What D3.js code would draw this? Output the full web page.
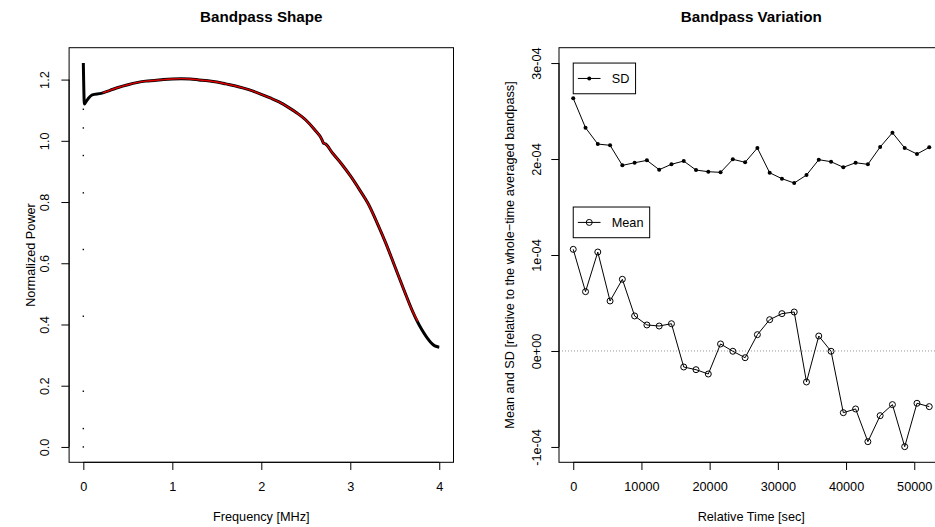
<!DOCTYPE html>
<html>
<head>
<meta charset="utf-8">
<script src="https://cdn.jsdelivr.net/npm/d3@7"></script>
<style>
  body { margin: 0; background: #fff; }
  text { font-family: "Liberation Sans", Arial, Helvetica, sans-serif; fill: #000; }
</style>
</head>
<body>
<div id="chart"></div>
<script>
// ---- left panel: bandpass shape ----
const spikeFreq = [0, 0, 0, 0, 0, 0, 0, 0, 0]
const spikePower = [0.0, 0.06, 0.182, 0.427, 0.645, 0.83, 0.952, 1.042, 1.103]

const shapeFreq = [0, 0.012, 0.03, 0.06, 0.1, 0.2, 0.3, 0.4, 0.5, 0.6, 0.7, 0.8, 0.9, 1.0, 1.1, 1.2, 1.3, 1.4, 1.5, 1.6, 1.7, 1.8, 1.9, 2.0, 2.1, 2.2, 2.3, 2.4, 2.5, 2.6, 2.68, 2.70, 2.72, 2.8, 2.9, 3.0, 3.1, 3.2, 3.3, 3.4, 3.5, 3.6, 3.7, 3.8, 3.9, 3.95, 4.0]
const shapePower = [1.254, 1.12, 1.128, 1.14, 1.15, 1.155, 1.165, 1.175, 1.183, 1.19, 1.195, 1.197, 1.2, 1.202, 1.203, 1.202, 1.199, 1.196, 1.192, 1.186, 1.18, 1.172, 1.163, 1.152, 1.14, 1.127, 1.11, 1.091, 1.068, 1.036, 1.005, 0.992, 0.99, 0.96, 0.925, 0.886, 0.842, 0.795, 0.733, 0.665, 0.59, 0.515, 0.443, 0.385, 0.343, 0.33, 0.326]

const fitFreq = [0.22, 0.3, 0.4, 0.5, 0.6, 0.7, 0.8, 0.9, 1.0, 1.1, 1.2, 1.3, 1.4, 1.5, 1.6, 1.7, 1.8, 1.9, 2.0, 2.1, 2.2, 2.3, 2.4, 2.5, 2.6, 2.68, 2.70, 2.72, 2.8, 2.9, 3.0, 3.1, 3.2, 3.3, 3.4, 3.5, 3.6, 3.7, 3.76]
const fitPower = [1.157, 1.165, 1.175, 1.183, 1.19, 1.195, 1.197, 1.2, 1.202, 1.203, 1.202, 1.199, 1.196, 1.192, 1.186, 1.18, 1.172, 1.163, 1.152, 1.14, 1.127, 1.11, 1.091, 1.068, 1.036, 1.005, 0.992, 0.99, 0.96, 0.925, 0.886, 0.842, 0.795, 0.733, 0.665, 0.59, 0.515, 0.443, 0.41]

const freqTicks = [0, 1, 2, 3, 4]
const powerTicks = [0, 0.2, 0.4, 0.6, 0.8, 1.0, 1.2]

// ---- right panel: bandpass variation ----
const timeSec = [0, 1800, 3600, 5400, 7200, 9000, 10800, 12600, 14400, 16200, 18000, 19800, 21600, 23400, 25200, 27000, 28800, 30600, 32400, 34200, 36000, 37800, 39600, 41400, 43200, 45000, 46800, 48600, 50400, 52200]
const sdValues = [2.632, 2.326, 2.156, 2.143, 1.934, 1.961, 1.986, 1.889, 1.945, 1.979, 1.885, 1.868, 1.861, 1.997, 1.966, 2.115, 1.857, 1.795, 1.75, 1.833, 1.993, 1.972, 1.914, 1.961, 1.945, 2.125, 2.274, 2.115, 2.052, 2.122].map(v => v * 1e-4)
const meanValues = [1.059, 0.618, 1.031, 0.521, 0.747, 0.365, 0.271, 0.26, 0.284, -0.167, -0.195, -0.24, 0.073, -0.003, -0.07, 0.17, 0.326, 0.389, 0.406, -0.323, 0.156, -0.003, -0.643, -0.604, -0.945, -0.674, -0.559, -0.997, -0.545, -0.58].map(v => v * 1e-4)

const timeTicks = [0, 10000, 20000, 30000, 40000, 50000]
const varTicks = [-1e-4, 0, 1e-4, 2e-4, 3e-4]
const varTickLabels = ["-1e-04", "0e+00", "1e-04", "2e-04", "3e-04"]

const width = 935
const height = 527
const plotTop = 47.7, plotBottom = 462.3
const fontSize = 12.7

let svg = d3.select("#chart")
    .append("svg")
    .attr("width", width)
    .attr("height", height)

svg.append("rect").attr("width", width).attr("height", height).attr("fill", "#fff")

// R style: extend the data range by 4% on each side
function rRange(lo, hi) {
    let d = (hi - lo) * 0.04
    return [lo - d, hi + d]
}

/// left panel
let xL = d3.scaleLinear().domain(rRange(0, 4)).range([69.1, 453.5])
let yL = d3.scaleLinear().domain(rRange(0, 1.254)).range([plotBottom, plotTop])

let gL = svg.append("g")

let shapeData = shapeFreq.map((f, i) => [f, shapePower[i]])
let fitData = fitFreq.map((f, i) => [f, fitPower[i]])

gL.append("path")
    .datum(shapeData)
    .attr("fill", "none")
    .attr("stroke", "#000")
    .attr("stroke-width", 3)
    .attr("d", d3.line().x(d => xL(d[0])).y(d => yL(d[1])).curve(d3.curveMonotoneX))

gL.selectAll(".spike")
    .data(spikeFreq.map((f, i) => [f, spikePower[i]]))
    .enter().append("rect")
    .attr("x", d => xL(d[0]) - 0.7)
    .attr("y", d => yL(d[1]) - 0.7)
    .attr("width", 1.4)
    .attr("height", 1.4)
    .attr("fill", "#000")

gL.append("path")
    .datum(fitData)
    .attr("fill", "none")
    .attr("stroke", "#e00000")
    .attr("stroke-width", 1.4)
    .attr("d", d3.line().x(d => xL(d[0])).y(d => yL(d[1])).curve(d3.curveMonotoneX))

drawBox(gL, xL)

// x axis
let axL = gL.append("g").attr("transform", `translate(0, ${plotBottom})`)
    .call(d3.axisBottom(xL).tickValues(freqTicks).tickSize(7.7).tickSizeOuter(0).tickFormat(d3.format("d")))
styleAxis(axL)
axL.selectAll("text").attr("y", 0).attr("dy", 0).attr("transform", "translate(0, 28.5)")
axL.select(".domain").attr("d", `M${xL(0)},0H${xL(4)}`)

// y axis (labels parallel to the axis)
let ayL = gL.append("g").attr("transform", `translate(${xL.range()[0]}, 0)`)
    .call(d3.axisLeft(yL).tickValues(powerTicks).tickSize(7.7).tickSizeOuter(0).tickFormat(d3.format(".1f")))
styleAxis(ayL)
ayL.select(".domain").attr("d", `M0,${yL(0)}V${yL(1.2)}`)
ayL.selectAll(".tick text")
    .attr("x", 0).attr("dy", 0)
    .attr("text-anchor", "middle")
    .attr("transform", "translate(-25, 0) rotate(-90) translate(0, 4.5)")

svg.append("text").attr("x", (xL.range()[0] + xL.range()[1]) / 2).attr("y", 22)
    .attr("text-anchor", "middle").attr("font-weight", "bold").attr("font-size", 15.2)
    .text("Bandpass Shape")
svg.append("text").attr("x", (xL.range()[0] + xL.range()[1]) / 2).attr("y", 521)
    .attr("text-anchor", "middle").attr("font-size", fontSize)
    .text("Frequency [MHz]")
svg.append("text").attr("transform", "translate(34.5, 255) rotate(-90)")
    .attr("text-anchor", "middle").attr("font-size", fontSize)
    .text("Normalized Power")

/// right panel
let xR = d3.scaleLinear().domain(rRange(0, 52200)).range([559.0, 943.5])
let yR = d3.scaleLinear().domain(rRange(-1e-4, 3e-4)).range([plotBottom, plotTop])

let gR = svg.append("g")

gR.append("line")
    .attr("x1", xR.range()[0]).attr("x2", xR.range()[1])
    .attr("y1", yR(0)).attr("y2", yR(0))
    .attr("stroke", "#9a9a9a").attr("stroke-width", 1).attr("stroke-dasharray", "1,2")

let lineR = (vals) => d3.line().x((d, i) => xR(timeSec[i])).y(d => d)(vals.map(v => yR(v)))

gR.append("path").attr("d", lineR(sdValues))
    .attr("fill", "none").attr("stroke", "#000").attr("stroke-width", 1)
gR.selectAll(".sd")
    .data(sdValues)
    .enter().append("circle")
    .attr("class", "sd")
    .attr("cx", (d, i) => xR(timeSec[i]))
    .attr("cy", d => yR(d))
    .attr("r", 2)
    .attr("fill", "#000")

gR.append("path").attr("d", lineR(meanValues))
    .attr("fill", "none").attr("stroke", "#000").attr("stroke-width", 1)
gR.selectAll(".mean")
    .data(meanValues)
    .enter().append("circle")
    .attr("class", "mean")
    .attr("cx", (d, i) => xR(timeSec[i]))
    .attr("cy", d => yR(d))
    .attr("r", 3)
    .attr("fill", "none")
    .attr("stroke", "#000")
    .attr("stroke-width", 1)

drawBox(gR, xR)

let axR = gR.append("g").attr("transform", `translate(0, ${plotBottom})`)
    .call(d3.axisBottom(xR).tickValues(timeTicks).tickSize(7.7).tickSizeOuter(0).tickFormat(d3.format("d")))
styleAxis(axR)
axR.selectAll("text").attr("y", 0).attr("dy", 0).attr("transform", "translate(0, 28.5)")
axR.select(".domain").attr("d", `M${xR(0)},0H${xR(50000)}`)

let ayR = gR.append("g").attr("transform", `translate(${xR.range()[0]}, 0)`)
    .call(d3.axisLeft(yR).tickValues(varTicks).tickSize(7.7).tickSizeOuter(0).tickFormat((d, i) => varTickLabels[i]))
styleAxis(ayR)
ayR.select(".domain").attr("d", `M0,${yR(-1e-4)}V${yR(3e-4)}`)
ayR.selectAll(".tick text")
    .attr("x", 0).attr("dy", 0)
    .attr("text-anchor", "middle")
    .attr("transform", "translate(-23, 0) rotate(-90) translate(0, 4.5)")

// legends
addLegend("SD", 3e-4, true)
addLegend("Mean", 1.5e-4, false)

svg.append("text").attr("x", (xR.range()[0] + xR.range()[1]) / 2).attr("y", 22)
    .attr("text-anchor", "middle").attr("font-weight", "bold").attr("font-size", 15.2)
    .text("Bandpass Variation")
svg.append("text").attr("x", (xR.range()[0] + xR.range()[1]) / 2).attr("y", 521)
    .attr("text-anchor", "middle").attr("font-size", fontSize)
    .text("Relative Time [sec]")
svg.append("text").attr("transform", `translate(514, ${(plotTop + plotBottom) / 2}) rotate(-90)`)
    .attr("text-anchor", "middle").attr("font-size", fontSize)
    .text("Mean and SD [relative to the whole\u2212time averaged bandpass]")

function drawBox(g, x) {
    let [x0, x1] = x.range()
    g.append("rect")
        .attr("x", x0).attr("y", plotTop)
        .attr("width", x1 - x0).attr("height", plotBottom - plotTop)
        .attr("fill", "none").attr("stroke", "#000").attr("stroke-width", 1)
}

function styleAxis(a) {
    a.selectAll("text").attr("font-size", fontSize).attr("font-family", "Liberation Sans, Arial, sans-serif").attr("fill", "#000")
    a.selectAll("line").attr("stroke", "#000")
    a.select(".domain").attr("stroke", "#000")
}

function addLegend(label, yVal, filled) {
    let x0 = xR(0), y0 = yR(yVal)
    let g = gR.append("g").attr("transform", `translate(${x0}, ${y0})`)
    let box = g.append("rect").attr("height", 30.7)
        .attr("fill", "#fff").attr("stroke", "#000").attr("stroke-width", 1)
    g.append("line").attr("x1", 4.6).attr("x2", 27.3).attr("y1", 15.4).attr("y2", 15.4)
        .attr("stroke", "#000")
    g.append("circle").attr("cx", 16).attr("cy", 15.4)
        .attr("r", filled ? 2 : 3)
        .attr("fill", filled ? "#000" : "none")
        .attr("stroke", "#000")
        .attr("stroke-width", filled ? 0 : 1)
    let t = g.append("text").attr("x", 38.5).attr("y", 20)
        .attr("font-size", fontSize).text(label)
    box.attr("width", t.node().getComputedTextLength() + 44.7)
}
</script>
</body>
</html>
